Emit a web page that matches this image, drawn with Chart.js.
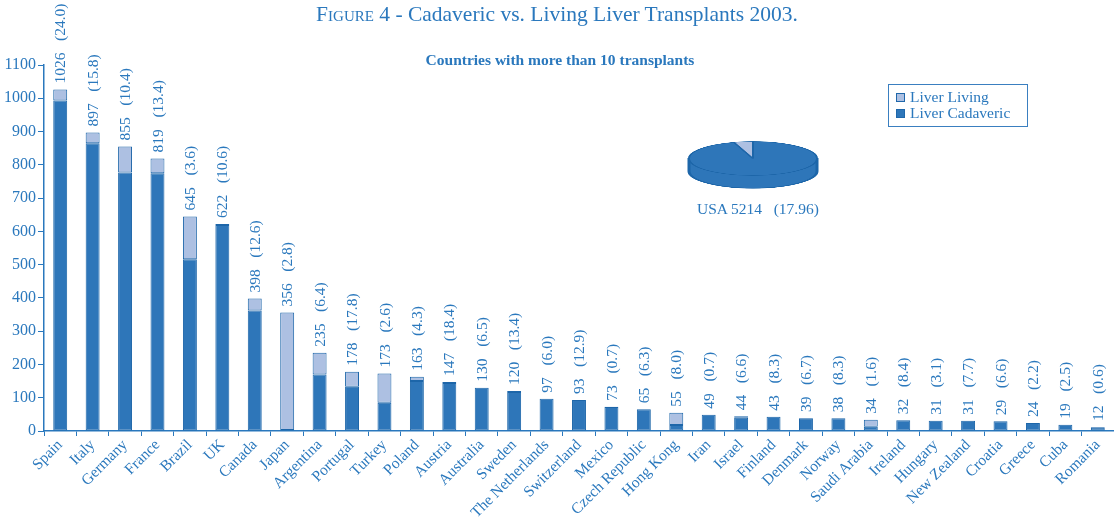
<!DOCTYPE html>
<html>
<head>
<meta charset="utf-8">
<script src="https://cdn.jsdelivr.net/npm/chart.js@4"></script>
<style>
  body { margin: 0; background: #fff; }
  #wrap { position: relative; width: 1114px; height: 520px; font-family: "Liberation Serif", serif; color: #2a78bd; }
  #title { position: absolute; left: 0; width: 1114px; top: 2px; text-align: center; font-size: 21.5px; }
  #title .sc { font-variant: small-caps; }
  #subtitle { position: absolute; left: 0; width: 1120px; top: 51px; text-align: center; font-size: 15.5px; font-weight: bold; }
  #legend { position: absolute; left: 888px; top: 84px; width: 138px; height: 41px; border: 1.5px solid #3a7fc0; font-size: 15.5px; line-height: 16px; }
  #legend div { position: relative; padding-left: 21px; margin-top: 0; }
  #legend div:first-child { margin-top: 4px; }
  #legend span { position: absolute; left: 7px; top: 4px; width: 7px; height: 7px; border: 1px solid #1f67aa; }
  #pieBox { position: absolute; left: 687px; top: 0px; width: 132px; height: 181px; transform-origin: 0 0; transform: translateY(141px) scaleY(0.265); }
  #usa { position: absolute; left: 697px; top: 200px; font-size: 15.5px; white-space: pre; }
</style>
</head>
<body>
<div id="wrap">
  <canvas id="myChart" width="1114" height="520"></canvas>
  <div id="title"><span class="sc">Figure</span> 4 - Cadaveric vs. Living Liver Transplants 2003.</div>
  <div id="subtitle">Countries with more than 10 transplants</div>
  <div id="legend">
    <div><span style="background:#adc0e2"></span>Liver Living</div>
    <div><span style="background:#2e76b9"></span>Liver Cadaveric</div>
  </div>
  <div id="pieBox"><canvas id="pieChart" width="132" height="181"></canvas></div>
  <div id="usa">USA 5214   (17.96)</div>
</div>
<script>
const countries = ["Spain", "Italy", "Germany", "France", "Brazil", "UK", "Canada", "Japan",
    "Argentina", "Portugal", "Turkey", "Poland", "Austria", "Australia", "Sweden",
    "The Netherlands", "Switzerland", "Mexico", "Czech Republic", "Hong Kong", "Iran",
    "Israel", "Finland", "Denmark", "Norway", "Saudi Arabia", "Ireland", "Hungary",
    "New Zealand", "Croatia", "Greece", "Cuba", "Romania"];
// totals and per-million-population rate printed above each bar
const totals = [1026, 897, 855, 819, 645, 622, 398, 356, 235, 178, 173, 163, 147, 130, 120,
    97, 93, 73, 65, 55, 49, 44, 43, 39, 38, 34, 32, 31, 31, 29, 24, 19, 12];
const pmp = ["24.0", "15.8", "10.4", "13.4", "3.6", "10.6", "12.6", "2.8", "6.4", "17.8", "2.6",
    "4.3", "18.4", "6.5", "13.4", "6.0", "12.9", "0.7", "6.3", "8.0", "0.7", "6.6", "8.3",
    "6.7", "8.3", "1.6", "8.4", "3.1", "7.7", "6.6", "2.2", "2.5", "0.6"];
const cadaveric = [993, 865, 777, 775, 516, 619, 362, 3, 170, 133, 85, 150, 144, 130, 117,
    97, 93, 72, 65, 18, 49, 40, 43, 37, 38, 13, 32, 31, 31, 29, 24, 19, 10];
const living = [33, 32, 78, 44, 129, 3, 36, 353, 65, 45, 88, 13, 3, 0, 3,
    0, 0, 1, 0, 37, 0, 4, 0, 2, 0, 21, 0, 0, 0, 0, 0, 0, 2];
const usaLabels = ["Liver Cadaveric", "Liver Living"];
const usaValues = [4964, 250];

const blue = "#2a78bd";
const darkFill = "#2e76b9";
const darkEdge = "#1d66a9";
const lightFill = "#adc0e2";

// writes "1026  (24.0)" vertically above every stacked bar
const valueLabels = {
    id: "valueLabels",
    afterDatasetsDraw(chart) {
        const ctx = chart.ctx;
        const meta = chart.getDatasetMeta(1);
        const y = chart.scales.y;
        ctx.save();
        ctx.fillStyle = blue;
        ctx.font = "15.5px 'Liberation Serif', serif";
        ctx.textAlign = "left";
        ctx.textBaseline = "middle";
        meta.data.forEach((bar, i) => {
            ctx.save();
            ctx.translate(bar.x + 1, y.getPixelForValue(totals[i]) - 6);
            ctx.rotate(-Math.PI / 2);
            ctx.fillText(totals[i] + "   (" + pmp[i] + ")", 0, 0);
            ctx.restore();
        });
        ctx.restore();
    }
};

Chart.defaults.font.family = "'Liberation Serif', serif";
Chart.defaults.color = blue;

new Chart(document.getElementById("myChart"), {
    type: "bar",
    data: {
        labels: countries,
        datasets: [
            {
                label: "Liver Cadaveric",
                data: cadaveric,
                backgroundColor: darkFill,
                borderColor: darkEdge,
                borderWidth: 1,
                borderSkipped: false,
                barPercentage: 0.43,
                categoryPercentage: 1,
            },
            {
                label: "Liver Living",
                data: living,
                backgroundColor: lightFill,
                borderColor: darkEdge,
                borderWidth: 1,
                borderSkipped: false,
                barPercentage: 0.43,
                categoryPercentage: 1,
            },
        ],
    },
    options: {
        responsive: false,
        animation: false,
        layout: { padding: { top: 65, left: 0, right: 0, bottom: 0 } },
        plugins: {
            legend: { display: false },
            tooltip: { enabled: false },
        },
        scales: {
            x: {
                stacked: true,
                offset: true,
                afterFit(scale) { scale.height = 89; },
                grid: { offset: true, drawOnChartArea: false, tickLength: 5, color: blue },
                border: { color: blue, width: 1.5 },
                ticks: { maxRotation: 45, minRotation: 45, autoSkip: false, padding: 0,
                    font: { size: 15.5 }, color: blue },
            },
            y: {
                stacked: true,
                min: 0,
                max: 1100,
                afterFit(scale) { scale.width = 44; },
                grid: { drawOnChartArea: false, tickLength: 6, color: blue },
                border: { color: blue, width: 1.5 },
                ticks: { stepSize: 100, padding: 2, font: { size: 16 }, color: blue,
                    callback: (v) => String(v) },
            },
        },
    },
    plugins: [valueLabels],
});

// 3D-looking rim under the USA pie (canvas is squashed by CSS)
const pieRim = {
    id: "pieRim",
    beforeDatasetsDraw(chart) {
        const arc = chart.getDatasetMeta(0).data[0];
        const ctx = chart.ctx;
        const r = arc.outerRadius;
        const depth = 48;
        ctx.save();
        ctx.fillStyle = darkFill;
        ctx.strokeStyle = darkEdge;
        ctx.lineWidth = 3;
        ctx.beginPath();
        ctx.arc(arc.x, arc.y + depth, r, 0, Math.PI);
        ctx.lineTo(arc.x - r, arc.y);
        ctx.lineTo(arc.x + r, arc.y);
        ctx.closePath();
        ctx.fill();
        ctx.stroke();
        ctx.restore();
    }
};

new Chart(document.getElementById("pieChart"), {
    type: "pie",
    data: {
        labels: usaLabels,
        datasets: [{
            data: usaValues,
            backgroundColor: [darkFill, lightFill],
            borderColor: darkEdge,
            borderWidth: 2,
        }],
    },
    options: {
        responsive: false,
        animation: false,
        layout: { padding: { top: 1, left: 1, right: 1, bottom: 50 } },
        plugins: { legend: { display: false }, tooltip: { enabled: false } },
    },
    plugins: [pieRim],
});
</script>
</body>
</html>
